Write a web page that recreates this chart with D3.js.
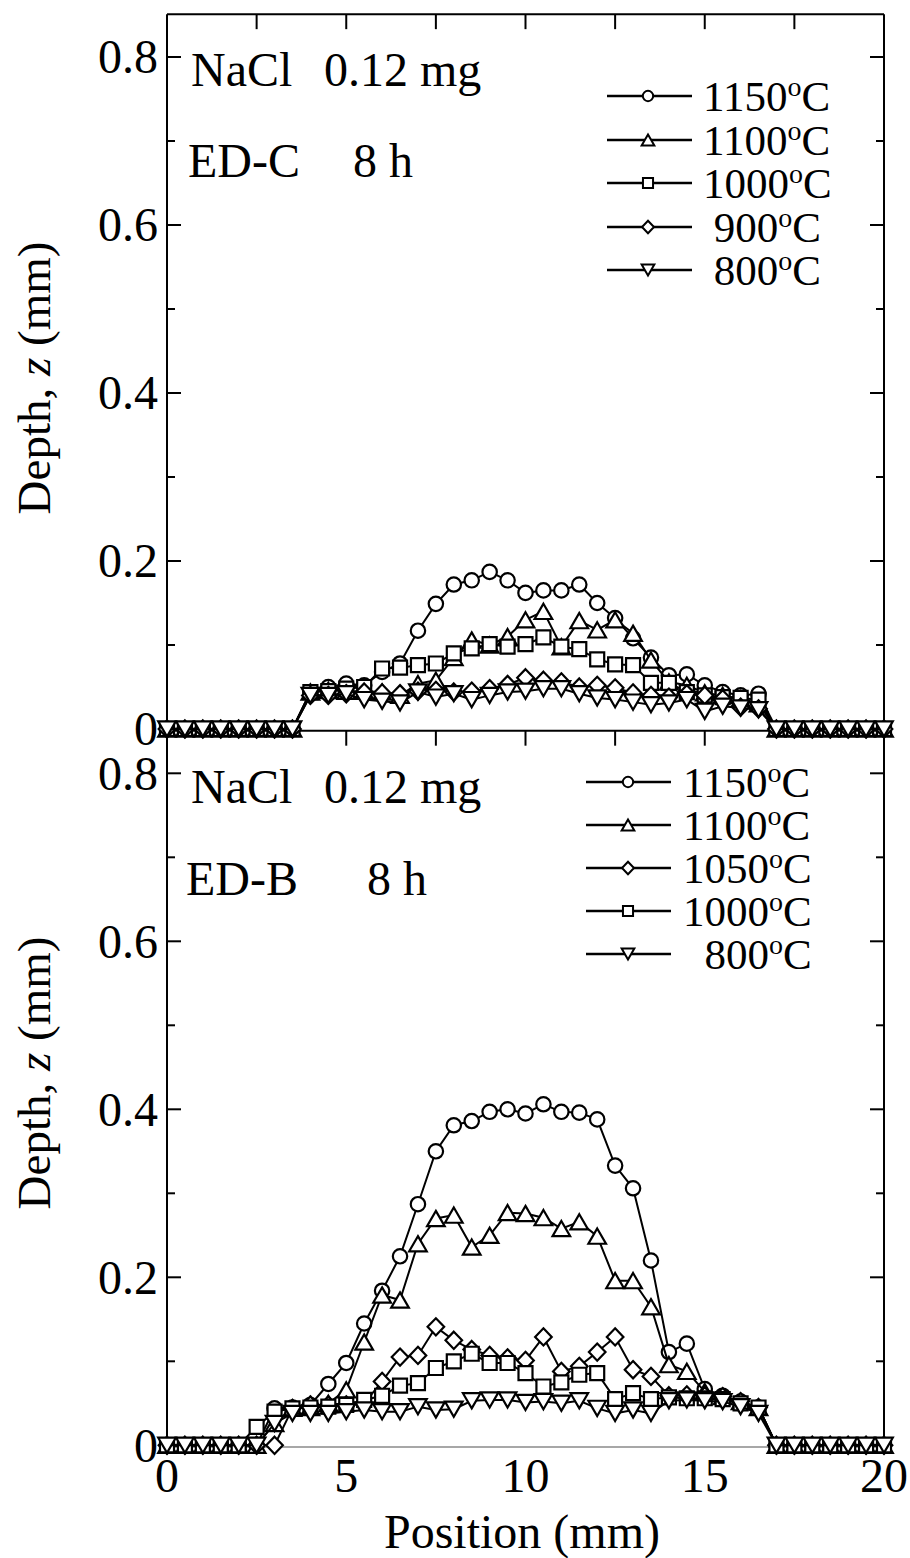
<!DOCTYPE html>
<html><head><meta charset="utf-8">
<script src="https://cdn.jsdelivr.net/npm/d3@7"></script>
<style>
body{margin:0;background:#fff}
svg{display:block}
text{font-family:"Liberation Serif","Times New Roman",serif;fill:#000}
</style>
</head><body>
<svg id="chart" width="910" height="1558"></svg>
<script>
// ---------- DATA ----------
const positions = [0,0.5,1,1.5,2,2.5,3,3.5,4,4.5,5,5.5,6,6.5,7,7.5,8,8.5,9,9.5,10,10.5,11,11.5,12,12.5,13,13.5,14,14.5,15,15.5,16,16.5,17,17.5,18,18.5,19,19.5,20];

// Top panel: NaCl 0.12 mg, ED-C, 8 h
const edc1150 = [0,0,0,0,0,0,0,0,0.044,0.050,0.054,0.052,0.068,0.078,0.117,0.149,0.172,0.177,0.187,0.177,0.162,0.165,0.165,0.172,0.150,0.132,0.108,0.085,0.064,0.065,0.052,0.044,0.040,0.042,0,0,0,0,0,0,0];
const edc1100 = [0,0,0,0,0,0,0,0,0.044,0.046,0.045,0.045,0.044,0.040,0.054,0.058,0.085,0.106,0.100,0.110,0.130,0.140,0.098,0.129,0.118,0.130,0.114,0.082,0.056,0.052,0.043,0.040,0.036,0.030,0,0,0,0,0,0,0];
const edc1000 = [0,0,0,0,0,0,0,0,0.044,0.045,0.048,0.050,0.072,0.073,0.076,0.078,0.090,0.096,0.101,0.098,0.101,0.109,0.098,0.095,0.083,0.077,0.076,0.055,0.055,0.044,0.040,0.038,0.037,0.035,0,0,0,0,0,0,0];
const edc900  = [0,0,0,0,0,0,0,0,0.040,0.040,0.042,0.044,0.043,0.042,0.045,0.046,0.044,0.045,0.048,0.053,0.061,0.058,0.056,0.050,0.052,0.049,0.043,0.040,0.038,0.042,0.040,0.036,0.026,0.024,0,0,0,0,0,0,0];
const edc800  = [0,0,0,0,0,0,0,0,0.040,0.040,0.042,0.035,0.033,0.031,0.044,0.038,0.042,0.035,0.040,0.044,0.045,0.048,0.048,0.042,0.037,0.035,0.032,0.029,0.031,0.035,0.021,0.027,0.025,0.023,0,0,0,0,0,0,0];

// Bottom panel: NaCl 0.12 mg, ED-B, 8 h
const edb1150 = [0,0,0,0,0,0,0.044,0.045,0.048,0.073,0.098,0.145,0.184,0.225,0.287,0.350,0.381,0.386,0.397,0.400,0.395,0.406,0.397,0.396,0.388,0.333,0.306,0.220,0.111,0.121,0.067,0.059,0.052,0.045,0,0,0,0,0,0,0];
const edb1100 = [0,0,0,0,0,0,0.026,0.044,0.045,0.050,0.066,0.123,0.179,0.173,0.240,0.270,0.274,0.236,0.250,0.277,0.276,0.271,0.258,0.266,0.249,0.196,0.196,0.165,0.096,0.088,0.064,0.058,0.052,0.045,0,0,0,0,0,0,0];
const edb1050 = [0,0,0,0,0,0,0,0.044,0.048,0.048,0.048,0.050,0.076,0.105,0.107,0.141,0.125,0.114,0.107,0.104,0.101,0.129,0.088,0.094,0.111,0.129,0.090,0.082,0.059,0.060,0.059,0.058,0.052,0.045,0,0,0,0,0,0,0];
const edb1000 = [0,0,0,0,0,0.022,0.040,0.044,0.045,0.046,0.048,0.054,0.059,0.071,0.074,0.092,0.100,0.109,0.098,0.098,0.086,0.070,0.075,0.084,0.086,0.055,0.062,0.055,0.057,0.056,0.056,0.055,0.050,0.045,0,0,0,0,0,0,0];
const edb800  = [0,0,0,0,0,0,0.026,0.038,0.038,0.038,0.040,0.042,0.040,0.040,0.046,0.042,0.043,0.053,0.054,0.054,0.051,0.052,0.050,0.053,0.044,0.038,0.042,0.038,0.053,0.054,0.053,0.052,0.046,0.038,0,0,0,0,0,0,0];

const topLabels = ["1150","1100","1000"," 900"," 800"];
const topShapes = ["circle","triangle","square","diamond","down"];
const botLabels = ["1150","1100","1050","1000","  800"];
const botShapes = ["circle","triangle","diamond","square","down"];

const yTickValues = [0,0.2,0.4,0.6,0.8];
const yMinorValues = [0.1,0.3,0.5,0.7];
const yTickLabels = ["0","0.2","0.4","0.6","0.8"];
const xTopTicks = [2.5,5,7.5,10,12.5,15,17.5];
const xMidTicks = [5,7.5,10,12.5,15];
const xTickValues = [0,5,10,15,20];
const xTickLabels = ["0","5","10","15","20"];

// ---------- DRAW ----------
const svg = d3.select("#chart");
const x = d3.scaleLinear().domain([0,20]).range([167,884]);
const yTop = d3.scaleLinear().domain([0,0.8]).range([729,57]);
const yBot = d3.scaleLinear().domain([0,0.8]).range([1445.3,773.3]);

function shapePath(type, s) {
  const p = d3.path();
  if (type === "circle") { p.arc(0,0,7.2*s,0,2*Math.PI); p.closePath(); }
  else if (type === "square") { const h=7*s; p.rect(-h,-h,2*h,2*h); }
  else if (type === "triangle") { const w=8.8*s, h=7.6*s; p.moveTo(0,-h); p.lineTo(w,h); p.lineTo(-w,h); p.closePath(); }
  else if (type === "down") { const w=8.8*s, h=7.6*s; p.moveTo(0,h); p.lineTo(w,-h); p.lineTo(-w,-h); p.closePath(); }
  else if (type === "diamond") { const w=8.3*s, h=8.6*s; p.moveTo(0,-h); p.lineTo(w,0); p.lineTo(0,h); p.lineTo(-w,0); p.closePath(); }
  return p.toString();
}

function drawSeries(y, values, shape) {
  const pts = positions.map((p,i)=>[p, values[i]]);
  const g = svg.append("g");
  g.append("path").datum(pts)
    .attr("d", d3.line().x(d=>x(d[0])).y(d=>y(d[1])))
    .attr("fill","none").attr("stroke","#000").attr("stroke-width",2);
  g.selectAll("path.m").data(pts).enter().append("path").attr("class","m")
    .attr("transform", d=>`translate(${x(d[0])},${y(d[1])})`)
    .attr("d", shapePath(shape,1))
    .attr("fill","#fff").attr("stroke","#000").attr("stroke-width",2.2);
}

function drawLegend(labels, shapes, x0, x1, xm, xt, yRows) {
  const g = svg.append("g");
  labels.forEach((lab,i)=>{
    const yy = yRows[i];
    g.append("line").attr("x1",x0).attr("x2",x1).attr("y1",yy).attr("y2",yy)
      .attr("stroke","#000").attr("stroke-width",2.5);
    g.append("path").attr("transform",`translate(${xm},${yy})`)
      .attr("d", shapePath(shapes[i],0.72))
      .attr("fill","#fff").attr("stroke","#000").attr("stroke-width",2);
    const t = g.append("text").attr("x",xt).attr("y",yy+15)
      .attr("font-size",43).style("white-space","pre");
    t.append("tspan").text(lab);
    t.append("tspan").attr("font-size",28).attr("dy",-15).text("o");
    t.append("tspan").attr("dy",15).text("C");
  });
}

function yAxisTicks(y) {
  const g = svg.append("g").attr("stroke","#000").attr("stroke-width",2);
  yTickValues.filter(v=>v>0).forEach(v=>{
    g.append("line").attr("x1",x(0)).attr("x2",x(0)+14).attr("y1",y(v)).attr("y2",y(v));
    g.append("line").attr("x1",x(20)).attr("x2",x(20)-14).attr("y1",y(v)).attr("y2",y(v));
  });
  yMinorValues.forEach(v=>{
    g.append("line").attr("x1",x(0)).attr("x2",x(0)+8).attr("y1",y(v)).attr("y2",y(v));
    g.append("line").attr("x1",x(20)).attr("x2",x(20)-8).attr("y1",y(v)).attr("y2",y(v));
  });
  yTickValues.forEach((v,i)=>{
    svg.append("text").attr("x",158).attr("y",y(v)).attr("dy","0.34em")
      .attr("text-anchor","end").attr("font-size",48).text(yTickLabels[i]);
  });
}

// frame lines
const frame = svg.append("g").attr("stroke","#000").attr("stroke-width",2).attr("fill","none");
frame.append("line").attr("x1",x(0)).attr("x2",x(20)).attr("y1",yTop(0.851)).attr("y2",yTop(0.851));
frame.append("line").attr("x1",x(0)).attr("x2",x(0)).attr("y1",yTop(0.851)).attr("y2",yBot(0.009));
frame.append("line").attr("x1",x(20)).attr("x2",x(20)).attr("y1",yTop(0.851)).attr("y2",yBot(0.007));
frame.append("line").attr("x1",x(0)).attr("x2",x(20)).attr("y1",yTop(-0.002)).attr("y2",yTop(-0.002));
xTopTicks.forEach(v=>{
  frame.append("line").attr("x1",x(v)).attr("x2",x(v)).attr("y1",yTop(0.851)).attr("y2",yTop(0.851)+15);
});
xMidTicks.forEach(v=>{
  frame.append("line").attr("x1",x(v)).attr("x2",x(v)).attr("y1",yTop(-0.002)).attr("y2",yTop(-0.002)+15);
});
// bottom baseline (thin grey)
svg.append("line").attr("x1",x(0)).attr("x2",x(20)).attr("y1",yBot(-0.002)).attr("y2",yBot(-0.002))
  .attr("stroke","#8a8a8a").attr("stroke-width",1.6);

yAxisTicks(yTop);
yAxisTicks(yBot);

// x tick labels
xTickValues.forEach((v,i)=>{
  svg.append("text").attr("x",x(v)).attr("y",1492).attr("text-anchor","middle")
    .attr("font-size",48).text(xTickLabels[i]);
});
svg.append("text").attr("x",522).attr("y",1548).attr("text-anchor","middle")
  .attr("font-size",48).text("Position (mm)");

// y titles
[[yTop,378],[yBot,1073]].forEach(([y,cy])=>{
  const t = svg.append("text").attr("transform",`translate(50,${cy}) rotate(-90)`)
    .attr("text-anchor","middle").attr("font-size",47).style("white-space","pre");
  t.append("tspan").text("Depth, ");
  t.append("tspan").attr("font-style","italic").text("z");
  t.append("tspan").text(" (mm)");
});

// annotations
function ann(txt, xx, yy){ svg.append("text").attr("x",xx).attr("y",yy).attr("font-size",48).text(txt); }
ann("NaCl",191,86); ann("0.12 mg",324,86);
ann("ED-C",188,177); ann("8 h",353,177);
ann("NaCl",191,803); ann("0.12 mg",324,803);
ann("ED-B",186,895); ann("8 h",367,895);

// series
[edc1150,edc1100,edc1000,edc900,edc800].forEach((s,i)=>drawSeries(yTop,s,topShapes[i]));
[edb1150,edb1100,edb1050,edb1000,edb800].forEach((s,i)=>drawSeries(yBot,s,botShapes[i]));

// legends
drawLegend(topLabels, topShapes, 607, 692, 648, 703, [96,140,183,227,270]);
drawLegend(botLabels, botShapes, 586, 671, 628, 683, [782,825,868,911,954]);
</script>
</body></html>
